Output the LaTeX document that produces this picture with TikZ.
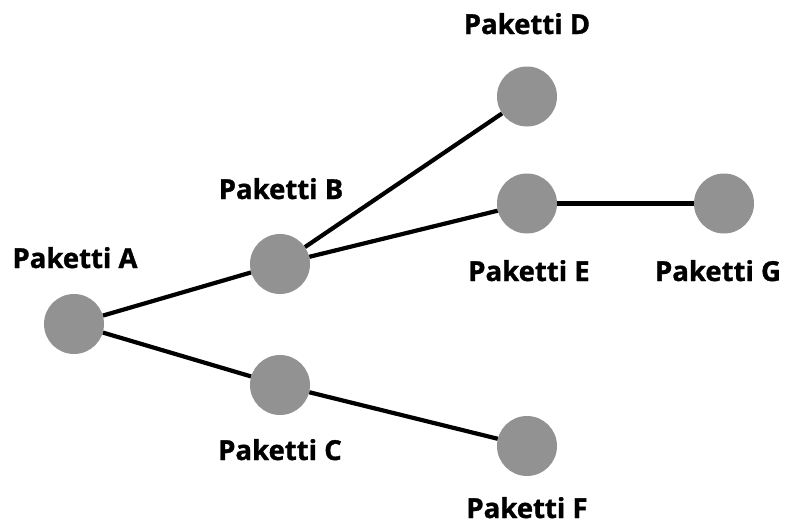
\documentclass[tikz,border=0pt]{standalone}
\usepackage{fontspec}
\setmainfont{Open Sans}[BoldFeatures={FakeBold=1.2}]
\definecolor{nodegray}{RGB}{146,146,146}
\begin{document}
\begin{tikzpicture}[x=1pt,y=-1pt,
  pkt/.style={circle,fill=nodegray,minimum size=60pt,inner sep=0pt},
  lbl/.style={anchor=base,inner sep=0pt,font=\fontsize{27.5}{32}\selectfont\bfseries},
  conn/.style={line width=4.2pt,black}]
\useasboundingbox[fill=white] (0,0) rectangle (788,525);
\node[pkt] (A) at (74,324) {};
\node[pkt] (B) at (280,264) {};
\node[pkt] (C) at (280,385) {};
\node[pkt] (D) at (527,96.5) {};
\node[pkt] (E) at (527,203.5) {};
\node[pkt] (G) at (724,203.5) {};
\node[pkt] (F) at (527,446) {};
\draw[conn] (A) -- (B);
\draw[conn] (A) -- (C);
\draw[conn] (B) -- (D);
\draw[conn] (B) -- (E);
\draw[conn] (E) -- (G);
\draw[conn] (C) -- (F);
\node[lbl] (lA) at (75,268) {Paketti A};
\node[lbl] (lB) at (281,199) {Paketti B};
\node[lbl] (lC) at (280,460) {Paketti C};
\node[lbl] (lD) at (527,34) {Paketti D};
\node[lbl] (lE) at (529,281) {Paketti E};
\node[lbl] (lG) at (718,281) {Paketti G};
\node[lbl] (lF) at (527,518) {Paketti F};
\end{tikzpicture}
\end{document}
